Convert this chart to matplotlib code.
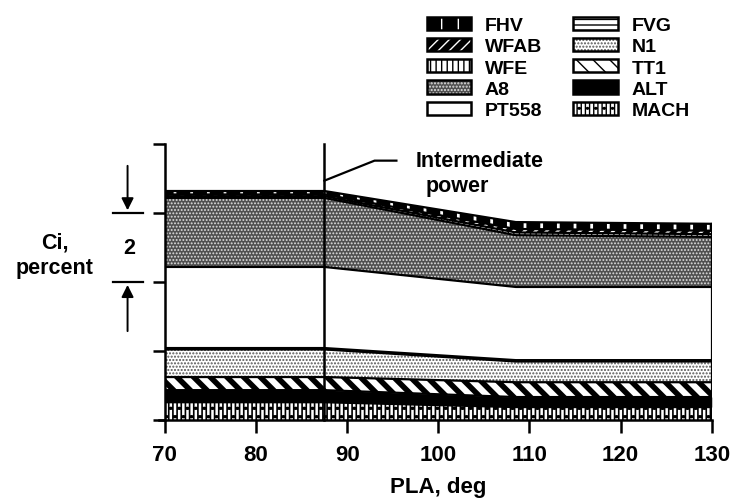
import numpy as np
import matplotlib.pyplot as plt
from matplotlib.patches import Patch
from matplotlib.legend_handler import HandlerTuple

plt.rcParams['font.family'] = ['Liberation Sans', 'DejaVu Sans']
plt.rcParams['font.weight'] = 'bold'

# PLA break points, deg
pla = [70, 87.5, 108.5, 130]

# layer thickness (percent), stacked from the bottom up
layers = ['MACH', 'ALT', 'TT1', 'N1', 'FVG', 'PT558', 'A8', 'WFE', 'WFAB', 'FHV']
mach = [0.52, 0.52, 0.38, 0.38]
alt = [0.35, 0.35, 0.29, 0.29]
tt1 = [0.38, 0.38, 0.43, 0.43]
n1 = [0.80, 0.80, 0.60, 0.60]
fvg = [0.04, 0.04, 0.04, 0.04]
pt558 = [2.35, 2.35, 2.12, 2.12]
a8 = [2.00, 2.00, 1.50, 1.45]
wfe = [0.05, 0.05, 0.08, 0.08]
wfab = [0.05, 0.05, 0.10, 0.10]
fhv = [0.10, 0.10, 0.20, 0.20]
values = [mach, alt, tt1, n1, fvg, pt558, a8, wfe, wfab, fhv]

legend_order = ['FHV', 'WFAB', 'WFE', 'A8', 'PT558', 'FVG', 'N1', 'TT1', 'ALT', 'MACH']

# (face, hatch colour, hatch)
styles = {
    'MACH': ('white', 'black', '||||..'),
    'ALT': ('black', 'black', None),
    'TT1': ('white', 'black', '\\\\'),
    'N1': ('white', '#555555', '.....'),
    'FVG': ('white', 'black', '---'),
    'PT558': ('white', 'black', None),
    'A8': ('#505050', '#e0e0e0', '.....'),
    'WFE': ('white', 'black', '|||'),
    'WFAB': ('black', 'white', '///'),
    'FHV': ('black', 'white', '|'),
}
hatch_lw = {'TT1': 4.0, 'WFAB': 2.0, 'FHV': 2.0, 'MACH': 1.2, 'A8': 0.9}


def set_hlw(artist, name):
    if name in hatch_lw:
        try:
            artist.set_hatch_linewidth(hatch_lw[name])
        except AttributeError:
            pass


fig = plt.figure(figsize=(7.33, 5.02), dpi=100)
ax = fig.add_axes([0.225, 0.161, 0.746, 0.55])

bottom = np.zeros(len(pla))
for name, vals in zip(layers, values):
    top = bottom + np.array(vals)
    face, hcol, hatch = styles[name]
    coll = ax.fill_between(pla, bottom, top, facecolor=face, edgecolor=hcol,
                           hatch=hatch, linewidth=0)
    set_hlw(coll, name)
    ax.plot(pla, top, color='black', lw=1.6)
    bottom = top

ax.plot([130, 130], [0, bottom[-1]], color='black', lw=1.6)
ax.plot([87.5, 87.5], [0, 8], color='black', lw=1.8, clip_on=False)

ax.set_xlim(70, 130)
ax.set_ylim(0, 8)
ax.set_xticks(range(70, 131, 10))
ax.set_yticks([0, 2, 4, 6, 8])
ax.set_yticklabels([])
ax.tick_params(axis='both', direction='out', length=9, width=1.8, labelsize=16, pad=8)
for lab in ax.get_xticklabels():
    lab.set_fontweight('bold')
ax.spines['top'].set_visible(False)
ax.spines['right'].set_visible(False)
ax.spines['left'].set_linewidth(1.8)
ax.spines['bottom'].set_linewidth(1.8)
ax.spines['bottom'].set_bounds(69.4, 130)
ax.set_xlabel('PLA, deg', fontsize=16, fontweight='bold', labelpad=8)

# "2 percent" scale marker on the left
ax.plot([64.3, 67.6], [6, 6], color='black', lw=1.6, clip_on=False)
ax.plot([64.3, 67.6], [4, 4], color='black', lw=1.6, clip_on=False)
ax.annotate('', xy=(65.9, 6.0), xytext=(65.9, 7.45), annotation_clip=False,
            arrowprops=dict(arrowstyle='-|>', color='black', lw=1.4, mutation_scale=18))
ax.annotate('', xy=(65.9, 4.0), xytext=(65.9, 2.5), annotation_clip=False,
            arrowprops=dict(arrowstyle='-|>', color='black', lw=1.4, mutation_scale=18))
ax.text(66.1, 5.0, '2', ha='center', va='center', fontsize=15.5, fontweight='bold')
ax.text(57.9, 4.8, 'Ci,\npercent', ha='center', va='center', fontsize=15.5,
        fontweight='bold', linespacing=1.3)

# intermediate power callout
ax.plot([87.5, 93.0, 95.4], [6.94, 7.52, 7.52], color='black', lw=1.6, clip_on=False)
ax.text(104.5, 7.52, 'Intermediate', ha='center', va='center', fontsize=15.5,
        fontweight='bold')
ax.text(102.1, 6.79, 'power', ha='center', va='center', fontsize=15.5, fontweight='bold')

handles = []
for name in legend_order:
    face, hcol, hatch = styles[name]
    fill = Patch(facecolor=face, edgecolor=hcol, hatch=hatch, linewidth=0)
    set_hlw(fill, name)
    border = Patch(fill=False, edgecolor='black', linewidth=1.8)
    handles.append((fill, border))
leg = fig.legend(handles, legend_order, loc='upper left', bbox_to_anchor=(0.558, 1.0),
                 ncol=2, frameon=False, handlelength=2.3, handleheight=0.67,
                 labelspacing=0.2, columnspacing=1.6, handletextpad=0.7,
                 prop={'weight': 'bold', 'size': 14},
                 handler_map={tuple: HandlerTuple(ndivide=1, pad=0)})

fig.savefig('out.png', dpi=100)
